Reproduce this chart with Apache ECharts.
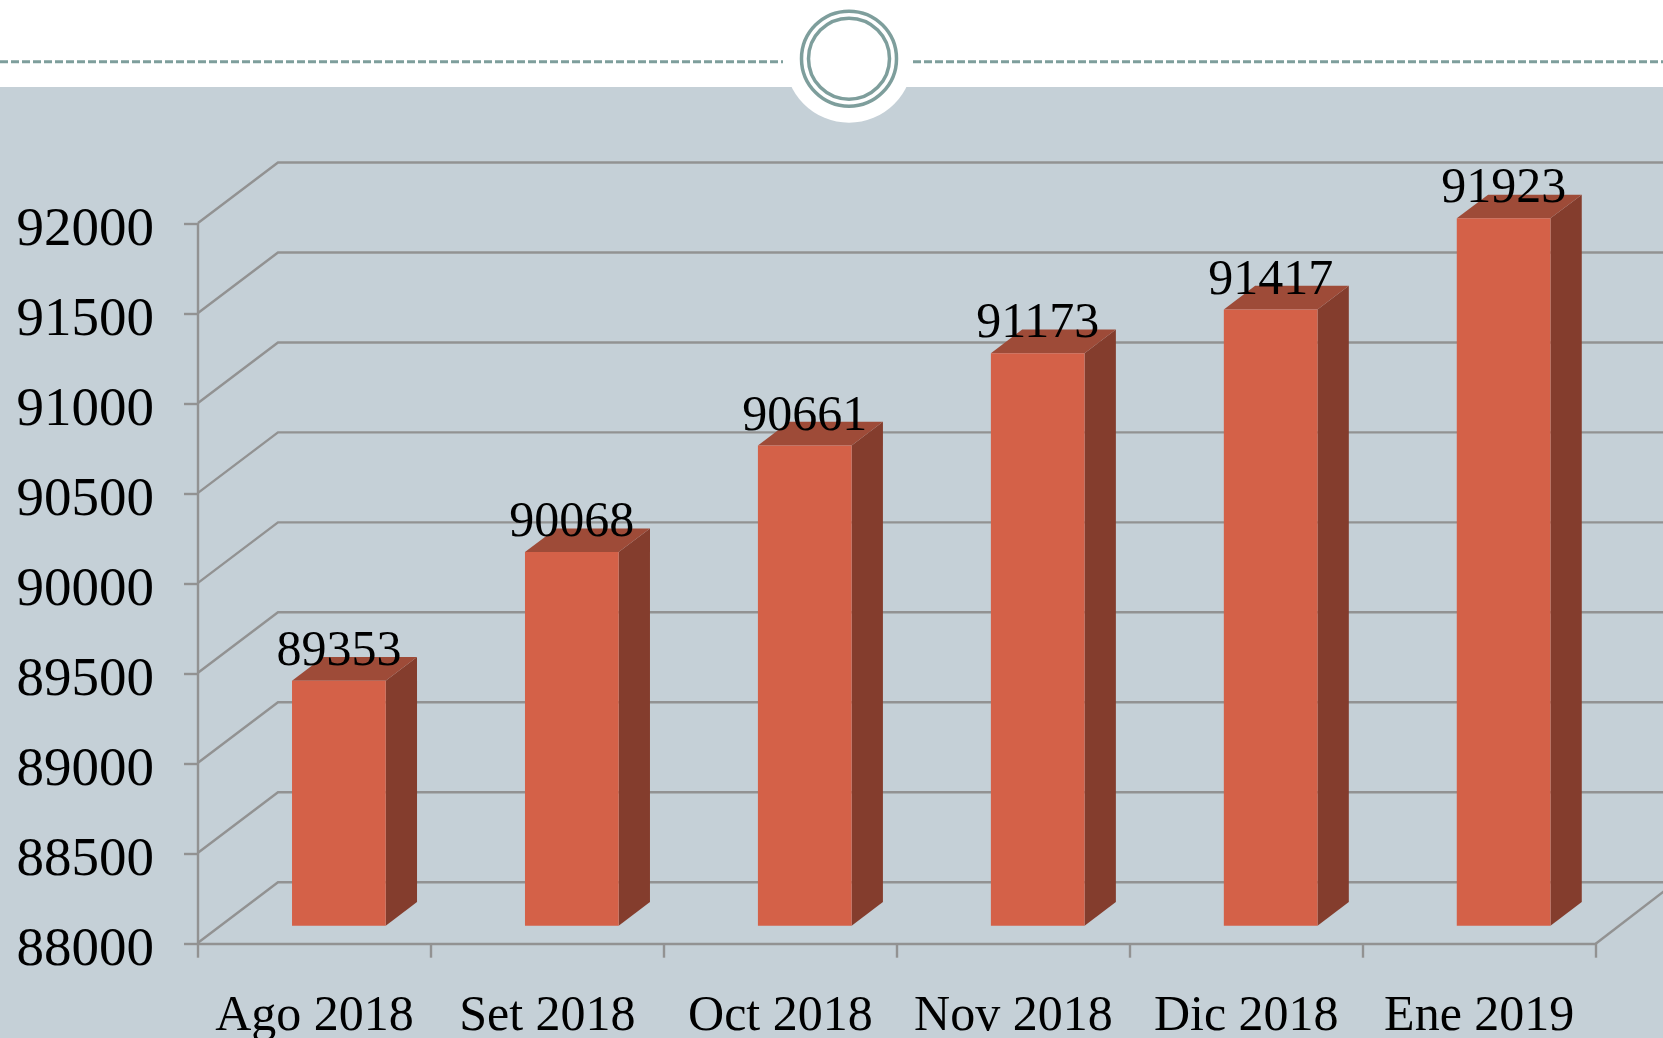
<!DOCTYPE html>
<html>
<head>
<meta charset="utf-8">
<style>html,body{margin:0;padding:0;background:#fff;overflow:hidden}#c{width:1663px;height:1038px}</style>
<script src="https://cdn.jsdelivr.net/npm/echarts@6/dist/echarts.min.js"></script>
</head>
<body>
<div id="c"></div>
<script>
const categories = ['Ago 2018','Set 2018','Oct 2018','Nov 2018','Dic 2018','Ene 2019'];
const values = [89353,90068,90661,91173,91417,91923];
const yTicks = [88000,88500,89000,89500,90000,90500,91000,91500,92000];
const yMin = 88000, yMax = 92000, yStep = 500;

const FONT = '"Liberation Serif", serif';
const GRID = '#929292';
const chart = echarts.init(document.getElementById('c'));

function gridItem(params, api){
  const v = api.value(1);
  const p = api.coord([0, v]);
  const band = api.size([1, 0])[0];
  const x0 = p[0] - band / 2, y0 = p[1];
  const wallDx = 80, wallDy = -61.5;
  const lineStyle = {stroke: GRID, lineWidth: 2.4, fill: null};
  const children = [
    {type:'polyline', shape:{points:[[x0, y0 - 1],[x0 + wallDx, y0 + wallDy],[api.getWidth(), y0 + wallDy]]}, style:lineStyle}
  ];
  if (v === yMin) {
    const xr = x0 + band * categories.length;
    children.push({type:'line', shape:{x1:xr, y1:y0, x2:xr + wallDx, y2:y0 + wallDy}, style:lineStyle});
  }
  return {type:'group', children};
}

function barItem(params, api){
  const i = api.value(0), v = api.value(1);
  const top = api.coord([i, v]);
  const base = api.coord([i, yMin]);
  const w = 93.7, ox = 24.4, oyTop = -19.5, oyBase = -18, sx = 31.3, sy = -23.7;
  const xL = top[0] + ox - w / 2, xR = xL + w;
  const yT = top[1] + oyTop, yB = base[1] + oyBase;
  return {type:'group', children:[
    {type:'polygon', shape:{points:[[xR,yT],[xR+sx,yT+sy],[xR+sx,yB+sy],[xR,yB]]}, style:{fill:'#843D2D'}},
    {type:'polygon', shape:{points:[[xL,yT],[xL+sx,yT+sy],[xR+sx,yT+sy],[xR,yT]]}, style:{fill:'#9E4B38'}},
    {type:'rect', shape:{x:xL, y:yT, width:w, height:yB-yT}, style:{fill:'#D46148'}},
    {type:'text', z2:10, style:{text:String(v), x:(xL+xR)/2, y:yT-29, align:'center', verticalAlign:'middle',
      font:'50px '+FONT, fill:'#000'}}
  ]};
}

const teal = '#7E9E9C';
chart.setOption({
  animation:false,
  backgroundColor:'#fff',
  grid:{left:198, right:67.3, top:224, bottom:94.3, outerBoundsMode:'none'},
  xAxis:{type:'category', data:categories, boundaryGap:true,
    axisLine:{show:true, lineStyle:{color:GRID, width:2.4}},
    axisTick:{show:true, length:14, lineStyle:{color:GRID, width:2.4}},
    axisLabel:{color:'#000', fontFamily:FONT, fontSize:50, margin:48, interval:0}},
  yAxis:{type:'value', min:yMin, max:yMax, interval:yStep,
    splitLine:{show:false},
    axisLine:{show:true, lineStyle:{color:GRID, width:2.4}},
    axisTick:{show:true, length:14, lineStyle:{color:GRID, width:2.4}},
    axisLabel:{margin:44,
      formatter:function(v){return '{n|' + v + '}';},
      rich:{n:{color:'#000', fontFamily:FONT, fontSize:55, padding:[13,0,0,0]}}}},
  graphic:[
    {type:'rect', z:-5, silent:true, shape:{x:0,y:87,width:1663,height:951}, style:{fill:'#C5D0D7'}},
    {type:'line', z:-4, silent:true, shape:{x1:0,y1:61.7,x2:783,y2:61.7}, style:{stroke:teal,lineWidth:3,lineDash:[8,3]}},
    {type:'line', z:-4, silent:true, shape:{x1:913,y1:61.7,x2:1663,y2:61.7}, style:{stroke:teal,lineWidth:3,lineDash:[8,3]}},
    {type:'circle', z:-3, silent:true, shape:{cx:849,cy:58.7,r:64}, style:{fill:'#fff'}},
    {type:'circle', z:-2, silent:true, shape:{cx:849,cy:58.7,r:47.5}, style:{fill:'#fff',stroke:teal,lineWidth:3.5}},
    {type:'circle', z:-2, silent:true, shape:{cx:849,cy:58.7,r:40.5}, style:{fill:'#fff',stroke:teal,lineWidth:3.5}}
  ],
  series:[
    {type:'custom', z:1, silent:true, renderItem:gridItem, data:yTicks.map(t=>[0,t]), encode:{x:0,y:1}},
    {type:'custom', z:3, silent:true, renderItem:barItem, data:values.map((v,i)=>[i,v]), encode:{x:0,y:1}}
  ]
});
</script>
</body>
</html>
